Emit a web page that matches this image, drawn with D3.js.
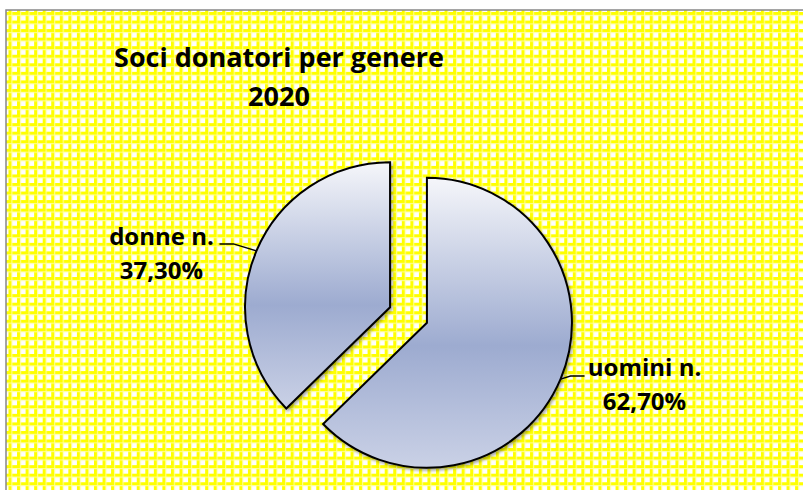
<!DOCTYPE html>
<html>
<head>
<meta charset="utf-8">
<script src="https://cdn.jsdelivr.net/npm/d3@7"></script>
<style>
  html, body { margin: 0; padding: 0; background: #fff; }
  svg { display: block; }
  text { font-family: "Open Sans", Lato, sans-serif; font-weight: bold; fill: #000; }
</style>
</head>
<body>
<svg id="chart" width="803" height="490"></svg>
<script>
// data
const categories = ["uomini n.", "donne n."];
const values = [62.7, 37.3];
const valueLabels = ["62,70%", "37,30%"];
const titleLines = ["Soci donatori per genere", "2020"];

const W = 803, H = 490;
const svg = d3.select("#chart");
const defs = svg.append("defs");

// yellow grid pattern background
const pitch = 8.55;
const pat = defs.append("pattern")
  .attr("id", "grid")
  .attr("patternUnits", "userSpaceOnUse")
  .attr("x", 10 - 1.5).attr("y", 13.5 - 1.5)
  .attr("width", pitch).attr("height", pitch);
pat.append("rect").attr("width", pitch).attr("height", pitch).attr("fill", "#fff");
pat.append("rect").attr("x", 0).attr("y", 0).attr("width", 3).attr("height", pitch).attr("fill", "#ffff00");
pat.append("rect").attr("x", 0).attr("y", 0).attr("width", pitch).attr("height", 3).attr("fill", "#ffff00");
pat.append("rect").attr("x", 3).attr("y", 0).attr("width", 1).attr("height", pitch).attr("fill", "#ffffa0");
pat.append("rect").attr("x", 0).attr("y", 3).attr("width", pitch).attr("height", 1).attr("fill", "#ffffa0");

svg.append("rect").attr("width", W).attr("height", H).attr("fill", "#fff");
svg.append("rect")
  .attr("x", 6).attr("y", 10).attr("width", W).attr("height", H)
  .attr("fill", "url(#grid)");
// chart area border (only top / left visible)
svg.append("path")
  .attr("d", `M6,${H} L6,10 L${W},10`)
  .attr("fill", "none").attr("stroke", "#888").attr("stroke-width", 1.5);

// slice gradient
const grad = defs.append("linearGradient")
  .attr("id", "sliceFill")
  .attr("x1", 0).attr("y1", 0).attr("x2", 0).attr("y2", 1);
grad.append("stop").attr("offset", 0).attr("stop-color", "#f5f6fa");
grad.append("stop").attr("offset", 0.58).attr("stop-color", "#9dabd0");
grad.append("stop").attr("offset", 1).attr("stop-color", "#cad1e6");

const shadow = defs.append("filter").attr("id", "shadow")
  .attr("x", "-10%").attr("y", "-10%").attr("width", "125%").attr("height", "125%");
shadow.append("feDropShadow")
  .attr("dx", 1.5).attr("dy", 2).attr("stdDeviation", 1.8)
  .attr("flood-color", "#000").attr("flood-opacity", 0.35);

// title
svg.append("g").selectAll("text")
  .data(titleLines)
  .join("text")
  .attr("x", 279)
  .attr("y", (d, i) => 67 + i * 39)
  .attr("text-anchor", "middle")
  .attr("font-size", 27)
  .text(d => d);

// pie
const cx = 408.5, cy = 315, R = 145, explode = 20;
const pie = d3.pie().sort(null).value(d => d);
const arcs = pie(values);
const arc = d3.arc().innerRadius(0).outerRadius(R);

const offset = a => {
  const m = (a.startAngle + a.endAngle) / 2;
  return [Math.sin(m) * explode, -Math.cos(m) * explode];
};

const g = svg.append("g").attr("transform", `translate(${cx},${cy})`);
g.selectAll("path.slice")
  .data(arcs)
  .join("path")
  .attr("class", "slice")
  .attr("transform", d => `translate(${offset(d)})`)
  .attr("d", arc)
  .attr("fill", "url(#sliceFill)")
  .attr("stroke", "#000")
  .attr("stroke-width", 2)
  .attr("stroke-linejoin", "miter")
  .attr("filter", "url(#shadow)");

// labels with leader lines
const labelLayout = [
  { elbow: [10, -3], tail: 14, tx: 60, ty: 0 },   // uomini
  { elbow: [-23, -7], tail: -14, tx: -58, ty: 1 }  // donne
];

arcs.forEach((a, i) => {
  const m = (a.startAngle + a.endAngle) / 2;
  const [ox, oy] = offset(a);
  const p = [ox + Math.sin(m) * R, oy - Math.cos(m) * R];
  const L = labelLayout[i];
  const e = [p[0] + L.elbow[0], p[1] + L.elbow[1]];
  const t = [e[0] + L.tail, e[1]];
  g.append("path")
    .attr("d", d3.line()([p, e, t]))
    .attr("fill", "none").attr("stroke", "#000").attr("stroke-width", 1.5);
  const lx = t[0] + L.tx, ly = t[1] + L.ty;
  const txt = g.append("text")
    .attr("text-anchor", "middle")
    .attr("font-size", 24);
  txt.append("tspan").attr("x", lx).attr("y", ly).text(categories[i]);
  txt.append("tspan").attr("x", lx).attr("y", ly + 34).text(valueLabels[i]);
});
</script>
</body>
</html>
